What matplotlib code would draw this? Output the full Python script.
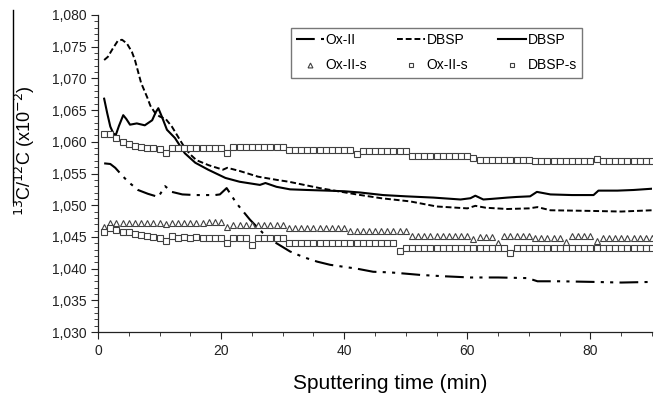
import matplotlib
matplotlib.use("Agg")
import matplotlib.pyplot as plt
from matplotlib.lines import Line2D
from matplotlib.ticker import MultipleLocator, FuncFormatter

plt.rcParams['font.family'] = ['Liberation Sans', 'DejaVu Sans']

# ---- line series (time in min, ratio) ----
oxii_t = [1, 2, 2.8, 4, 4.9, 6.5, 8.1, 9.8, 10.9, 12, 13.7, 15.8, 19, 19.8, 20.9, 22.5, 24.7,
          26.8, 29, 31.2, 33.4, 35.6, 37.7, 39.8, 42, 44.7, 47.5, 50, 52.4, 56, 60.5, 65,
          69.8, 71.4, 75, 80.5, 85, 90]
oxii_v = [1.0566, 1.0565, 1.0559, 1.0546, 1.0537, 1.0524, 1.0518, 1.0513, 1.0530, 1.0521,
          1.0517, 1.0516, 1.0516, 1.0517, 1.0527, 1.0503, 1.0477, 1.0456, 1.0440, 1.0427,
          1.0418, 1.0411, 1.0406, 1.0403, 1.0400, 1.0395, 1.0394, 1.0392, 1.0390, 1.0388,
          1.0386, 1.0386, 1.0385, 1.0380, 1.0380, 1.0379, 1.0378, 1.0379]

dbsp_dash_t = [1, 1.6, 2.4, 3.2, 3.9, 4.7, 5.5, 6, 7, 8, 8.5, 9.3, 10, 11, 12, 13, 14, 15, 16,
               18, 20.3, 21, 23, 26, 29, 31, 33, 36, 39, 42, 46, 50.7, 55, 60, 61.3, 63,
               66.5, 70, 71.4, 73.5, 80, 85, 90]
dbsp_dash_v = [1.0729, 1.0734, 1.0747, 1.0759, 1.0761, 1.0755, 1.0742, 1.0729, 1.0693,
               1.0670, 1.0657, 1.0645, 1.0640, 1.0636, 1.0624, 1.0608, 1.0592, 1.0580,
               1.0571, 1.0563, 1.0556, 1.0559, 1.0554, 1.0545, 1.0540, 1.0537, 1.0533,
               1.0527, 1.0522, 1.0517, 1.0511, 1.0506, 1.0498, 1.0495, 1.0499, 1.0496,
               1.0494, 1.0495, 1.0497, 1.0492, 1.0491, 1.0490, 1.0492]

dbsp_solid_t = [1, 1.5, 2, 2.5, 2.9, 3.4, 4.1, 4.6, 5.2, 6.3, 7.6, 8.8, 9.4, 9.8, 10.4, 11.2,
                12.5, 14.1, 15.8, 17.9, 20.7, 23, 26.3, 27.2, 29, 31.2, 34, 37.2, 40, 42.6,
                46.3, 50, 54.5, 58.9, 60.5, 61.3, 62.6, 64, 66.5, 68, 70.2, 71.3, 73.5, 77,
                80.5, 81.3, 84.4, 87, 90]
dbsp_solid_v = [1.0668, 1.0645, 1.0624, 1.0613, 1.0611, 1.0625, 1.0642, 1.0636, 1.0627,
                1.0629, 1.0626, 1.0634, 1.0647, 1.0653, 1.0639, 1.0619, 1.0606, 1.0582,
                1.0567, 1.0556, 1.0543, 1.0537, 1.0532, 1.0535, 1.0529, 1.0525, 1.0524,
                1.0523, 1.0522, 1.0520, 1.0516, 1.0514, 1.0512, 1.0509, 1.0511, 1.0515,
                1.0509, 1.0510, 1.0512, 1.0513, 1.0514, 1.0521, 1.0517, 1.0516, 1.0516,
                1.0523, 1.0523, 1.0524, 1.0526]

# ---- marker series, one value per minute (t = 1..90) ----
marker_t = list(range(1, 91))

oxii_s_tri = ([1.0465] + [1.0472] * 9 + [1.0470] + [1.0472] * 6 + [1.0474] * 3 +
              [1.0466] + [1.0469] * 9 + [1.0464] * 10 + [1.0460] * 10 +
              [1.0452] * 10 + [1.0446] + [1.0450] * 3 + [1.0440] + [1.0452] * 5 +
              [1.0448] * 5 + [1.0442] + [1.0452] * 4 + [1.0443] + [1.0448] * 9)

oxii_s_sq = ([1.0458, 1.0464, 1.0461, 1.0458, 1.0457, 1.0455, 1.0453, 1.0451, 1.0450,
              1.0449, 1.0444, 1.0451, 1.0449, 1.0450, 1.0449, 1.0450, 1.0449, 1.0449,
              1.0449, 1.0449, 1.0440, 1.0448, 1.0448, 1.0448, 1.0438, 1.0448, 1.0448,
              1.0448, 1.0448, 1.0448] + [1.0441] * 18 + [1.0428] + [1.0433] * 17 +
             [1.0425] + [1.0432] * 23)

dbsp_s_sq = ([1.0612, 1.0612, 1.0606, 1.0600, 1.0597, 1.0594, 1.0592, 1.0590, 1.0590,
              1.0589, 1.0582] + [1.0590] * 9 + [1.0583] + [1.0592] * 9 + [1.0587] * 11 +
             [1.0580] + [1.0585] * 8 + [1.0577] * 10 + [1.0574] + [1.0571] * 8 +
             [1.0572] + [1.0569] * 10 + [1.0573] + [1.0570] * 9)

x_ticks = [0, 20, 40, 60, 80]
y_ticks = [1.030, 1.035, 1.040, 1.045, 1.050, 1.055, 1.060, 1.065, 1.070, 1.075, 1.080]

fig = plt.figure(figsize=(6.64, 3.95), dpi=100)
ax = fig.add_axes([98 / 664, 1 - 332 / 395, (652 - 98) / 664, (332 - 15) / 395])

l1, = ax.plot(oxii_t, oxii_v, color='black', lw=1.5, dashes=(9, 3, 1.5, 3, 1.5, 3),
              label='Ox-II')
l2, = ax.plot(dbsp_dash_t, dbsp_dash_v, color='black', lw=1.4, dashes=(3, 1.5),
              label='DBSP')
l3, = ax.plot(dbsp_solid_t, dbsp_solid_v, color='black', lw=1.5, label='DBSP')
m1, = ax.plot(marker_t, oxii_s_tri, ls='none', marker='^', ms=5, mfc='white',
              mec='#404040', mew=0.8, label='Ox-II-s')
m2, = ax.plot(marker_t, oxii_s_sq, ls='none', marker='s', ms=5, mfc='white',
              mec='#404040', mew=0.8, label='Ox-II-s')
m3, = ax.plot(marker_t, dbsp_s_sq, ls='none', marker='s', ms=5, mfc='white',
              mec='#404040', mew=0.8, label='DBSP-s')

ax.set_xlim(0, 90)
ax.set_ylim(1.030, 1.080)
ax.set_xticks(x_ticks)
ax.set_yticks(y_ticks)
ax.xaxis.set_minor_locator(MultipleLocator(5))
ax.yaxis.set_minor_locator(MultipleLocator(0.001))
ax.yaxis.set_major_formatter(FuncFormatter(lambda v, p: f"{v:.3f}".replace('.', ',')))
ax.tick_params(which='major', direction='out', length=5, width=0.8, labelsize=10,
               colors='#222222')
ax.tick_params(which='minor', direction='out', length=3, width=0.6, colors='#222222')
for s in ['top', 'right']:
    ax.spines[s].set_visible(False)
for s in ['left', 'bottom']:
    ax.spines[s].set_color('#222222')
    ax.spines[s].set_linewidth(0.9)

ax.set_xlabel('Sputtering time (min)', fontsize=15, labelpad=12)
ax.xaxis.label.set_x(0.527)
fig.text(25 / 664, 1 - 151 / 395, r'$^{13}$C/$^{12}$C (x10$^{-2}$)', rotation=90,
         ha='center', va='center', fontsize=13)
fig.add_artist(Line2D([13 / 664, 13 / 664], [1 - 10 / 395, 1 - 202 / 395],
                      transform=fig.transFigure, color='black', lw=1))

leg = ax.legend(handles=[l1, m1, l2, m2, l3, m3], ncol=3,
                bbox_to_anchor=(0.348, 0.789, 0.526, 0.183), loc='center', mode='expand',
                fontsize=10, frameon=True, fancybox=False, edgecolor='#555555',
                handlelength=2.0, handletextpad=0.1, markerscale=0.7,
                borderaxespad=0, labelspacing=0.8, columnspacing=1.0)
leg.get_frame().set_linewidth(1.0)

fig.savefig('out.png', dpi=100)
